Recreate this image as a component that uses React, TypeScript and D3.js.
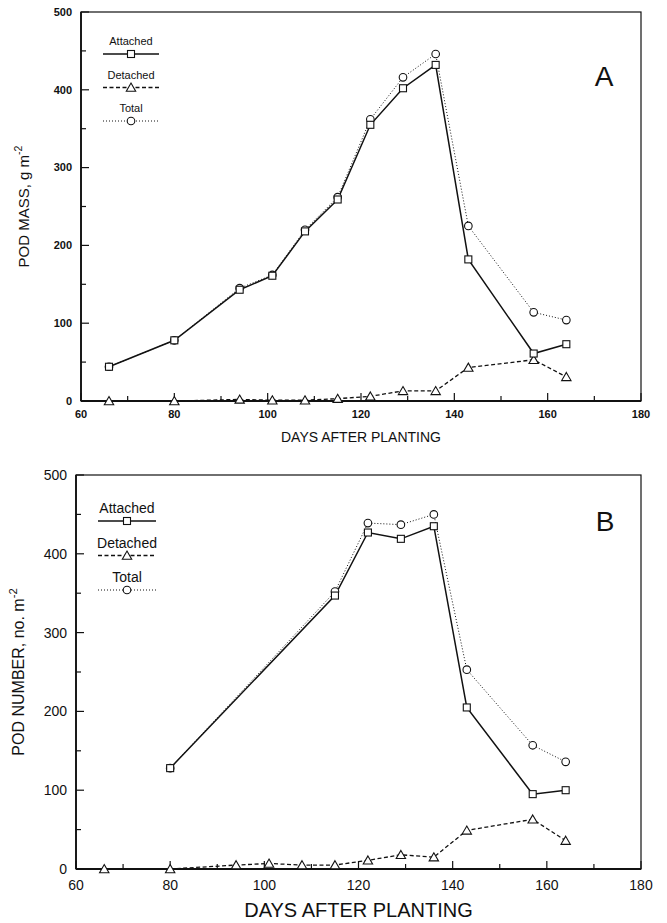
import React from "react";
import * as d3 from "d3";

// sampling days (days after planting)
const days = [66, 80, 94, 101, 108, 115, 122, 129, 136, 143, 157, 164];

// panel A: pod mass, g m-2
const massAttached = [44, 78, 143, 161, 218, 259, 355, 402, 432, 182, 61, 73];
const massDetached = [0, 0, 2, 1, 1, 3, 6, 13, 13, 43, 53, 31];
const massTotal = [44, 78, 145, 162, 220, 262, 362, 416, 446, 225, 114, 104];

// panel B: pod number, no. m-2
const numberDays = [80, 115, 122, 129, 136, 143, 157, 164];
const numberAttached = [128, 347, 427, 419, 435, 205, 95, 100];
const numberTotal = [128, 352, 439, 437, 450, 253, 157, 136];
const numberDetached = [0, 0, 5, 7, 5, 5, 11, 18, 15, 49, 63, 36];

const xTicks = [60, 80, 100, 120, 140, 160, 180];
const yTicks = [0, 100, 200, 300, 400, 500];
const legendLabels = ["Attached", "Detached", "Total"];

const FONT = "'Liberation Sans', Arial, Helvetica, sans-serif";

type Kind = "attached" | "detached" | "total";
type Series = { x: number[]; y: number[]; kind: Kind; from: number };

const lineStyle: Record<Kind, { w: number; dash?: string }> = {
  attached: { w: 1.5 },
  detached: { w: 1.3, dash: "4,2.5" },
  total: { w: 1, dash: "1,2" },
};

function Marker({ kind, x, y }: { kind: Kind; x: number; y: number }) {
  const p = { fill: "white", stroke: "#111", strokeWidth: 1.1 };
  if (kind === "attached") return <rect x={x - 3.5} y={y - 3.5} width={7} height={7} {...p} />;
  if (kind === "total") return <circle cx={x} cy={y} r={3.8} {...p} />;
  const s = d3.symbol(d3.symbolTriangle, 38)();
  return <path d={s || ""} transform={`translate(${x},${y + 1})`} {...p} />;
}

function Panel(props: {
  left: number;
  right: number;
  top: number;
  bottom: number;
  series: Series[];
  tickFont: number;
  tickBold: boolean;
  xTitle: string;
  xTitleSize: number;
  xTitleY: number;
  xLabelY: number;
  yTitle: string;
  yTitleSize: number;
  letter: string;
  letterPos: [number, number];
  legend: { cx: number; y0: number; gap: number; size: number; lineOff: number; half: number };
}) {
  const { left, right, top, bottom } = props;
  const x = d3.scaleLinear().domain([60, 180]).range([left, right]);
  const y = d3.scaleLinear().domain([0, 500]).range([bottom, top]);
  const minorY = d3.range(0, 501, 50);
  const minorX = d3.range(60, 181, 10);
  const tw = props.tickBold ? "bold" : "normal";
  const kinds: Kind[] = ["attached", "detached", "total"];

  return (
    <g fontFamily={FONT}>
      {/* frame */}
      <rect x={left} y={top} width={right - left} height={bottom - top} fill="none" stroke="#111" strokeWidth={1.2} />
      <line x1={left} x2={left} y1={top} y2={bottom} stroke="#111" strokeWidth={1.8} />
      <line x1={left} x2={right} y1={bottom} y2={bottom} stroke="#111" strokeWidth={1.8} />
      {minorY.map((v) => (
        <line key={"ty" + v} x1={left} x2={left + (v % 100 === 0 ? 8 : 5)} y1={y(v)} y2={y(v)} stroke="#111" strokeWidth={1.2} />
      ))}
      {minorX.map((v) => (
        <line key={"tx" + v} x1={x(v)} x2={x(v)} y1={bottom} y2={bottom - (v % 20 === 0 ? 8 : 5)} stroke="#111" strokeWidth={1.2} />
      ))}
      {yTicks.map((v) => (
        <text key={"ly" + v} x={left - 9} y={y(v)} dy="0.35em" textAnchor="end" fontSize={props.tickFont} fontWeight={tw} fill="#111">
          {v}
        </text>
      ))}
      {xTicks.map((v) => (
        <text key={"lx" + v} x={x(v)} y={props.xLabelY} dy="0.35em" textAnchor="middle" fontSize={props.tickFont} fontWeight={tw} fill="#111">
          {v}
        </text>
      ))}
      <text x={(left + right) / 2} y={props.xTitleY} textAnchor="middle" fontSize={props.xTitleSize} fill="#111">
        {props.xTitle}
      </text>
      <text
        transform={`translate(${left - 52},${(top + bottom) / 2}) rotate(-90)`}
        textAnchor="middle"
        fontSize={props.yTitleSize}
        fill="#111"
      >
        {props.yTitle}
        <tspan fontSize={props.yTitleSize * 0.7} dy={-props.yTitleSize * 0.45}>-2</tspan>
      </text>
      <text x={props.letterPos[0]} y={props.letterPos[1]} textAnchor="middle" fontSize={28} fill="#111">
        {props.letter}
      </text>

      {/* series */}
      {props.series.map((s) => {
        const pts = s.x.map((d, i) => [x(d), y(s.y[i])] as [number, number]);
        const path = d3.line()(pts.slice(s.from)) || "";
        const st = lineStyle[s.kind];
        return (
          <g key={s.kind}>
            <path d={path} fill="none" stroke="#111" strokeWidth={st.w} strokeDasharray={st.dash} />
          </g>
        );
      })}
      {props.series
        .slice()
        .reverse()
        .map((s) => (
          <g key={"m" + s.kind}>
            {s.x.map((d, i) => (
              <Marker key={i} kind={s.kind} x={x(d)} y={y(s.y[i])} />
            ))}
          </g>
        ))}

      {/* legend */}
      {kinds.map((k, i) => {
        const L = props.legend;
        const ty = L.y0 + i * L.gap;
        const ly = ty + L.lineOff;
        const st = lineStyle[k];
        return (
          <g key={"lg" + k}>
            <text x={L.cx} y={ty} textAnchor="middle" fontSize={L.size} fill="#111">
              {legendLabels[i]}
            </text>
            <line x1={L.cx - L.half} x2={L.cx + L.half} y1={ly} y2={ly} stroke="#111" strokeWidth={st.w} strokeDasharray={st.dash} />
            <Marker kind={k} x={L.cx} y={ly} />
          </g>
        );
      })}
    </g>
  );
}

export default function App() {
  const seriesA: Series[] = [
    { x: days, y: massAttached, kind: "attached", from: 0 },
    { x: days, y: massDetached, kind: "detached", from: 1 },
    { x: days, y: massTotal, kind: "total", from: 0 },
  ];
  const seriesB: Series[] = [
    { x: numberDays, y: numberAttached, kind: "attached", from: 0 },
    { x: days, y: numberDetached, kind: "detached", from: 1 },
    { x: numberDays, y: numberTotal, kind: "total", from: 0 },
  ];
  return (
    <svg width={667} height={923} style={{ position: "absolute", left: 0, top: 0, background: "white" }}>
      <rect width={667} height={923} fill="white" />
      <Panel
        left={81}
        right={641}
        top={12}
        bottom={401}
        series={seriesA}
        tickFont={11}
        tickBold={true}
        xTitle="DAYS AFTER PLANTING"
        xTitleSize={14}
        xTitleY={442}
        xLabelY={414}
        yTitle="POD MASS, g m"
        yTitleSize={15}
        letter="A"
        letterPos={[604, 86]}
        legend={{ cx: 131, y0: 45, gap: 33.5, size: 11, lineOff: 9, half: 28 }}
      />
      <Panel
        left={76}
        right={641}
        top={475}
        bottom={869}
        series={seriesB}
        tickFont={14}
        tickBold={false}
        xTitle="DAYS AFTER PLANTING"
        xTitleSize={20}
        xTitleY={917}
        xLabelY={885}
        yTitle="POD NUMBER, no. m"
        yTitleSize={16}
        letter="B"
        letterPos={[605, 531]}
        legend={{ cx: 127, y0: 513, gap: 34.5, size: 14, lineOff: 8, half: 29 }}
      />
    </svg>
  );
}
